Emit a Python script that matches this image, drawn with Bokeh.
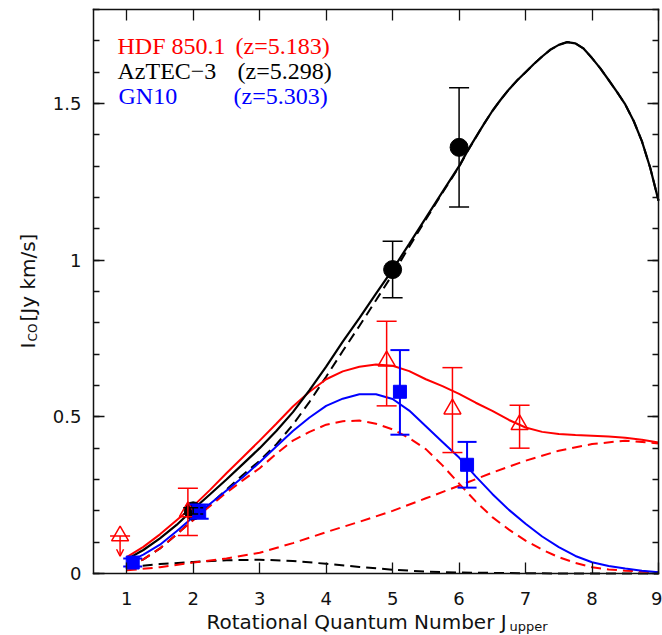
from math import pi
from bokeh.plotting import figure
from bokeh.models import (ColumnDataSource, Whisker, TeeHead, Arrow, OpenHead, Label,
                          LinearAxis, FixedTicker, SingleIntervalTicker, Range1d,
                          CustomJSTickFormatter)
from bokeh.embed import file_html
from bokeh.resources import INLINE

# ---------------- data ----------------
x_ticks = [1, 2, 3, 4, 5, 6, 7, 8, 9]
y_tick_labels = {0: "0", 0.5: "0.5", 1: "1", 1.5: "1.5"}
x_lim = (0.5, 9.0)
y_lim = (0.0, 1.8)

# model grids (J_upper)
J_fine = [1.0, 1.25, 1.5, 1.75, 2.0, 2.25, 2.5, 2.75, 3.0, 3.25, 3.5, 3.75, 4.0,
          4.25, 4.5, 4.75, 5.0, 5.25, 5.5, 5.75, 6.0, 6.25, 6.5, 6.75, 7.0, 7.25,
          7.5, 7.75, 8.0, 8.25, 8.5, 8.75, 9.0]
J_coarse = [1.0, 1.5, 2.0, 2.5, 3.0, 3.5, 4.0, 4.5, 5.0, 5.5, 6.0, 6.5, 7.0,
            7.5, 8.0, 8.5, 9.0]
J_aztec = [1.0, 1.25, 1.5, 1.75, 2.0, 2.25, 2.5, 2.75, 3.0, 3.25, 3.5, 3.75, 4.0,
           4.25, 4.5, 4.75, 5.0, 5.25, 5.5, 5.75, 6.0, 6.125, 6.25, 6.375, 6.5,
           6.625, 6.75, 6.875, 7.0, 7.125, 7.25, 7.375, 7.5, 7.625, 7.75, 7.875,
           8.0, 8.125, 8.25, 8.375, 8.5, 8.625, 8.75, 8.875, 9.0]

# AzTEC-3 model: total (solid), high-excitation (dashed), low-excitation (dashed)
aztec_total = [0.045, 0.075, 0.112, 0.155, 0.205, 0.252, 0.300, 0.350, 0.400, 0.455,
               0.515, 0.585, 0.660, 0.740, 0.815, 0.893, 0.970, 1.052, 1.135, 1.218,
               1.300, 1.348, 1.392, 1.435, 1.476, 1.512, 1.545, 1.574, 1.600, 1.626,
               1.650, 1.672, 1.687, 1.696, 1.692, 1.675, 1.645, 1.612, 1.575, 1.537,
               1.497, 1.445, 1.380, 1.295, 1.190]
aztec_high = [0.020, 0.045, 0.080, 0.125, 0.172, 0.220, 0.268, 0.315, 0.360, 0.412,
              0.475, 0.548, 0.628, 0.710, 0.790, 0.872, 0.955, 1.043, 1.130, 1.215,
              1.298, 1.347, 1.391, 1.435, 1.476, 1.512, 1.545, 1.574, 1.600, 1.626,
              1.650, 1.672, 1.687, 1.696, 1.692, 1.675, 1.645, 1.612, 1.575, 1.537,
              1.497, 1.445, 1.380, 1.295, 1.190]
aztec_low = [0.020, 0.030, 0.037, 0.042, 0.044, 0.040, 0.031, 0.021, 0.012, 0.006,
             0.003, 0.002, 0.001, 0.0, 0.0, 0.0, 0.0]

# HDF 850.1 model: total (solid), two components (dashed)
hdf_total = [0.052, 0.085, 0.125, 0.170, 0.215, 0.266, 0.320, 0.372, 0.424, 0.478,
             0.533, 0.580, 0.620, 0.645, 0.660, 0.667, 0.663, 0.646, 0.620, 0.598,
             0.573, 0.545, 0.519, 0.490, 0.466, 0.452, 0.445, 0.442, 0.440, 0.437,
             0.433, 0.427, 0.418]
hdf_low = [0.020, 0.045, 0.080, 0.125, 0.170, 0.215, 0.258, 0.298, 0.336, 0.382,
           0.424, 0.452, 0.475, 0.486, 0.488, 0.478, 0.460, 0.432, 0.397, 0.345,
           0.287, 0.230, 0.180, 0.140, 0.105, 0.076, 0.052, 0.034, 0.020, 0.013,
           0.009, 0.006, 0.004]
hdf_high = [0.010, 0.020, 0.035, 0.048, 0.066, 0.097, 0.132, 0.165, 0.200, 0.240,
            0.280, 0.322, 0.360, 0.392, 0.413, 0.424, 0.415]

# GN10 model (solid)
gn10_total = [0.035, 0.060, 0.092, 0.135, 0.180, 0.222, 0.265, 0.308, 0.355, 0.405,
              0.455, 0.498, 0.535, 0.558, 0.572, 0.572, 0.557, 0.520, 0.470, 0.420,
              0.370, 0.310, 0.254, 0.203, 0.159, 0.118, 0.084, 0.056, 0.036, 0.024,
              0.016, 0.009, 0.004]

# measurements
aztec_J = [2.0, 5.0, 6.0]
aztec_I = [0.20, 0.97, 1.36]
aztec_lo = [0.19, 0.88, 1.17]
aztec_hi = [0.21, 1.06, 1.55]

hdf_J = [1.92, 4.91, 5.90, 6.91]
hdf_I = [0.197, 0.678, 0.525, 0.475]
hdf_lo = [0.121, 0.535, 0.386, 0.400]
hdf_hi = [0.272, 0.805, 0.657, 0.537]
hdf_lim_J = [0.90]
hdf_lim_I = [0.12]

gn10_J = [1.09, 2.09, 5.11, 6.12]
gn10_I = [0.035, 0.197, 0.580, 0.347]
gn10_lo = [0.022, 0.175, 0.443, 0.274]
gn10_hi = [0.048, 0.220, 0.713, 0.420]

RED = "#ff0000"
BLUE = "#0000ff"
BLACK = "#000000"
INK = "#111111"

# ---------------- layout geometry (pixels of the box inside the canvas) ----------------
W, H = 662, 635
BOX_L, BOX_R, BOX_T, BOX_B = 93.0, 658.0, 9.0, 573.0
PXU = (BOX_R - BOX_L) / (x_lim[1] - x_lim[0])
PYU = (BOX_B - BOX_T) / (y_lim[1] - y_lim[0])
xr = Range1d(x_lim[0] - BOX_L / PXU, x_lim[1] + (W - BOX_R) / PXU)
yr = Range1d(y_lim[0] - (H - BOX_B) / PYU, y_lim[1] + BOX_T / PYU)

p = figure(width=W, height=H, output_backend="svg", toolbar_location=None,
           x_range=xr, y_range=yr, x_axis_location=None, y_axis_location=None,
           min_border=0, min_border_left=0, min_border_right=0,
           min_border_top=0, min_border_bottom=0,
           background_fill_color="white", border_fill_color="white")
p.outline_line_color = None
p.grid.visible = False

def make_axis(ticker, loc, bounds, show_labels, minor=True):
    ax = LinearAxis(ticker=ticker, fixed_location=loc, bounds=bounds)
    ax.axis_line_color = INK
    ax.axis_line_width = 1.5
    ax.axis_line_cap = "square"
    ax.major_tick_in = 11
    ax.major_tick_out = 0
    ax.minor_tick_in = 6 if minor else 0
    ax.minor_tick_out = 0
    ax.major_tick_line_color = INK
    ax.minor_tick_line_color = INK
    ax.major_tick_line_width = 1.3
    ax.minor_tick_line_width = 1.3
    if show_labels:
        ax.major_label_text_font = "DejaVu Sans"
        ax.major_label_text_font_size = "18px"
        ax.major_label_text_color = INK
    else:
        ax.formatter = CustomJSTickFormatter(code="return ''")
        ax.major_label_text_font_size = "1px"
        ax.major_label_standoff = 0
    return ax

bottom = make_axis(FixedTicker(ticks=x_ticks), y_lim[0], x_lim, True, minor=False)
bottom.major_label_standoff = 18
p.add_layout(bottom, "below")
left = make_axis(SingleIntervalTicker(interval=0.5, num_minor_ticks=5), x_lim[0], y_lim, True)
left.major_label_standoff = 12
left.major_label_overrides = y_tick_labels
p.add_layout(left, "left")
top = make_axis(FixedTicker(ticks=x_ticks), y_lim[1], x_lim, False, minor=False)
p.add_layout(top, "above")
right = make_axis(SingleIntervalTicker(interval=0.5, num_minor_ticks=5), x_lim[1], y_lim, False)
p.add_layout(right, "right")

# ---------------- model curves ----------------
dash = "10 6"
p.line(J_coarse, aztec_low, line_color=BLACK, line_width=2, line_dash=dash)
p.line(J_aztec, aztec_high, line_color=BLACK, line_width=2, line_dash=dash)
p.line(J_fine, hdf_low, line_color=RED, line_width=2, line_dash=dash)
p.line(J_coarse, hdf_high, line_color=RED, line_width=2, line_dash=dash)
p.line(J_fine, gn10_total, line_color=BLUE, line_width=2)
p.line(J_fine, hdf_total, line_color=RED, line_width=2)
p.line(J_aztec, aztec_total, line_color=BLACK, line_width=2.2)

# ---------------- measurements ----------------
def errbars(J, lo, hi, color, width, cap):
    src = ColumnDataSource(dict(x=J, lower=lo, upper=hi))
    w = Whisker(source=src, base="x", lower="lower", upper="upper", dimension="height",
                line_color=color, line_width=width, level="glyph",
                upper_head=TeeHead(size=cap, line_color=color, line_width=width),
                lower_head=TeeHead(size=cap, line_color=color, line_width=width))
    p.add_layout(w)

errbars(aztec_J, aztec_lo, aztec_hi, BLACK, 1.5, 20)
p.scatter(aztec_J, aztec_I, marker="circle", size=18, fill_color=BLACK, line_color=BLACK)

errbars(hdf_J, hdf_lo, hdf_hi, RED, 1.5, 20)
p.scatter(hdf_J, hdf_I, marker="triangle", size=17, fill_color=None, line_color=RED, line_width=1.5)
lim_src = ColumnDataSource(dict(x=hdf_lim_J, y=hdf_lim_I, ye=[v - 0.065 for v in hdf_lim_I]))
p.scatter("x", "y", source=lim_src, marker="triangle", size=17, fill_color=None, line_color=RED, line_width=1.5)
p.scatter("x", "y", source=lim_src, marker="dash", size=20, line_color=RED, line_width=1.5)
p.add_layout(Arrow(source=lim_src, x_start="x", y_start="y", x_end="x", y_end="ye",
                   line_color=RED, line_width=1.5,
                   end=OpenHead(size=7, line_color=RED, line_width=1.5)))

errbars(gn10_J, gn10_lo, gn10_hi, BLUE, 2, 19)
p.scatter(gn10_J, gn10_I, marker="square", size=13, fill_color=BLUE, line_color=BLUE)

# ---------------- texts ----------------
def X(px):
    return x_lim[0] + (px - BOX_L) / PXU
def Y(py):
    return y_lim[0] + (BOX_B - py) / PYU

def lab(text, px, py, size, color=INK, font="DejaVu Sans", angle=0.0):
    p.add_layout(Label(x=X(px), y=Y(py), text=text, text_font=font,
                       text_font_size=f"{size}px", text_color=color,
                       text_align="left", text_baseline="alphabetic", angle=angle))

serif = "Liberation Serif"
lab("HDF 850.1", 117, 45, 24, RED, serif)
lab("(z=5.183)", 235, 45, 24, RED, serif)
lab("AzTEC\u22123", 117, 70, 24, BLACK, serif)
lab("(z=5.298)", 237, 70, 24, BLACK, serif)
lab("GN10", 118, 95, 24, BLUE, serif)
lab("(z=5.303)", 233, 95, 24, BLUE, serif)

lab("Rotational Quantum Number J", 206, 621, 20)
lab("upper", 509, 626, 13)

lab("I", 27, 348, 20, angle=pi / 2)
lab("CO", 32, 341, 12, angle=pi / 2)
lab("[Jy km/s]", 27, 321, 20, angle=pi / 2)

open("out.html", "w").write(file_html(p, INLINE))
